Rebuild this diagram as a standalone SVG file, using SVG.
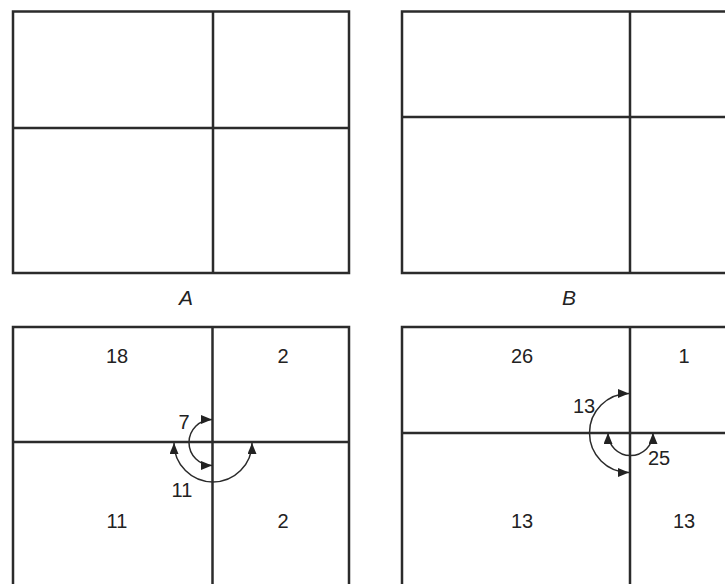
<svg xmlns="http://www.w3.org/2000/svg" width="725" height="584" viewBox="0 0 725 584">
<defs>
<style>
.ln{fill:none;stroke:#2b2b2b;stroke-width:2.5}
.arc{fill:none;stroke:#2b2b2b;stroke-width:1.5}
.num{font-family:"Liberation Sans",Arial,sans-serif;font-size:20px;fill:#222;text-anchor:middle}
.lab{font-family:"Liberation Sans",Arial,sans-serif;font-size:21px;font-style:italic;fill:#222;text-anchor:middle}
</style>
<marker id="ah" viewBox="0 0 11 9" refX="11" refY="4.5" markerWidth="11" markerHeight="9" markerUnits="userSpaceOnUse" orient="auto-start-reverse">
<path d="M0,0 L11,4.5 L0,9 z" fill="#222"/>
</marker>
</defs>
<rect width="725" height="584" fill="#fff"/>
<g id="panelA">
<rect class="ln" x="13" y="11.5" width="336" height="261.5"/>
<line class="ln" x1="213" y1="11.5" x2="213" y2="273"/>
<line class="ln" x1="13" y1="128" x2="349" y2="128"/>
<text class="lab" x="186" y="305">A</text>
</g>
<g id="panelB">
<path class="ln" d="M727 11.5 H402 V273 H727"/>
<line class="ln" x1="630" y1="11.5" x2="630" y2="273"/>
<line class="ln" x1="402" y1="117" x2="727" y2="117"/>
<text class="lab" x="569" y="305">B</text>
</g>
<g id="panelC">
<path class="ln" d="M13 590 V327 H349 V590"/>
<line class="ln" x1="212.5" y1="327" x2="212.5" y2="590"/>
<line class="ln" x1="13" y1="442" x2="349" y2="442"/>
<text class="num" x="117" y="363">18</text>
<text class="num" x="283" y="363">2</text>
<text class="num" x="117" y="528">11</text>
<text class="num" x="283" y="528">2</text>
<text class="num" x="184" y="429">7</text>
<text class="num" x="182" y="497">11</text>
</g>
<g id="panelD">
<path class="ln" d="M727 327 H402 V590"/>
<line class="ln" x1="630" y1="327" x2="630" y2="590"/>
<line class="ln" x1="402" y1="433" x2="727" y2="433"/>
<text class="num" x="522" y="363">26</text>
<text class="num" x="684" y="363">1</text>
<text class="num" x="522" y="528">13</text>
<text class="num" x="684" y="528">13</text>
<text class="num" x="584" y="413">13</text>
<text class="num" x="659" y="465">25</text>
</g>
<g id="connectors">
<path class="arc" marker-start="url(#ah)" marker-end="url(#ah)" d="M212 419.5 A23 23 0 0 0 212 465.5"/>
<path class="arc" marker-start="url(#ah)" marker-end="url(#ah)" d="M174 443 A39 39 0 0 0 252 443"/>
<path class="arc" marker-start="url(#ah)" marker-end="url(#ah)" d="M629 393.5 A39 39 0 0 0 629 472.5"/>
<path class="arc" marker-start="url(#ah)" marker-end="url(#ah)" d="M608 433 A22.5 22.5 0 0 0 653 433"/>
</g>
</svg>
